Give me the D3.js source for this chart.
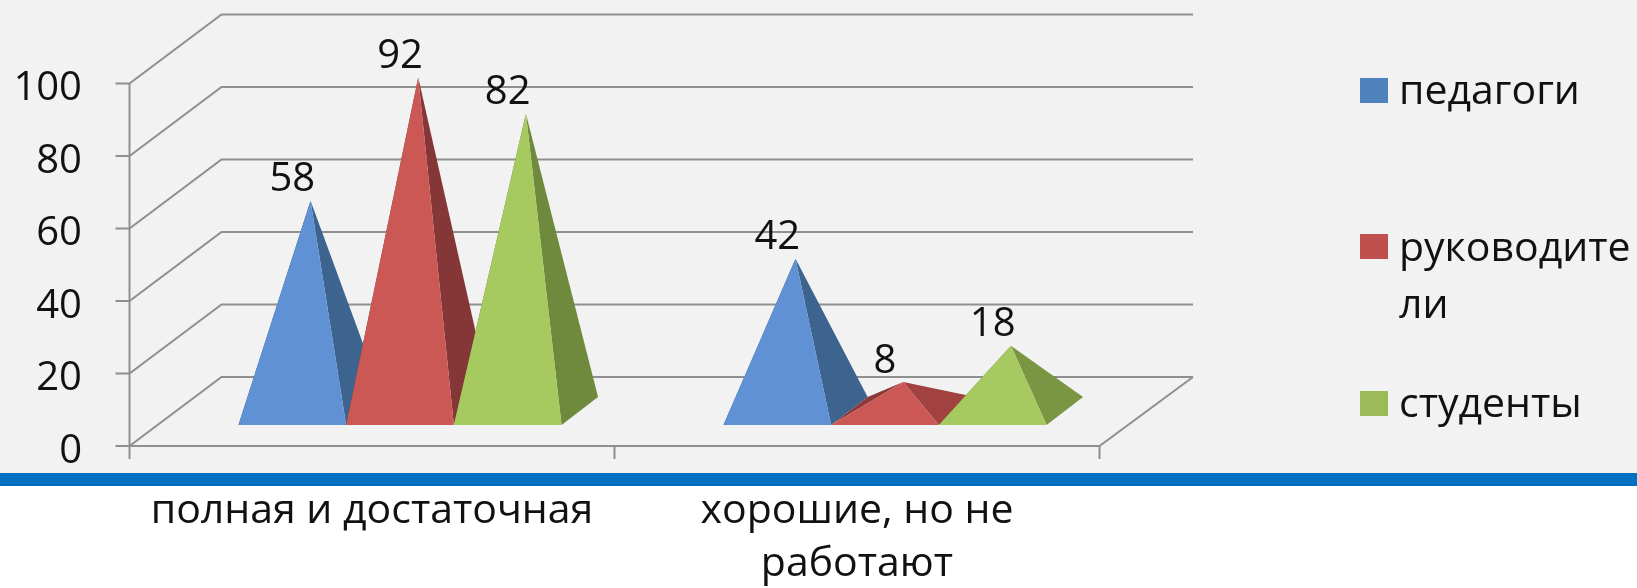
<!DOCTYPE html>
<html><head><meta charset="utf-8">
<script src="https://cdn.jsdelivr.net/npm/d3@7"></script>
<style>html,body{margin:0;padding:0;background:#fff}svg{display:block;filter:blur(0.5px)}text{font-family:"Open Sans",sans-serif;fill:#111}</style>
</head><body><div id="chart"></div>
<script>
const categories = ["полная и достаточная", "хорошие, но не работают"];
const categoryLines = [["полная и достаточная"], ["хорошие, но не", "работают"]];
const seriesNames = ["педагоги", "руководители", "студенты"];
const legendLines = [["педагоги"], ["руководите", "ли"], ["студенты"]];
const teachers = [58, 42];
const managers = [92, 8];
const students = [82, 18];
const yTicks = [0, 20, 40, 60, 80, 100];
const frontColors = ["#5f91d4", "#cc5855", "#a6ca60"];
const sideFlat = ["#4a73a5", "#a84543", "#839f48"];
const sideSteep = ["#3c648f", "#853636", "#6f8a3c"];
const legendColors = ["#4f81bd", "#c0504d", "#9bbb59"];

const W = 1637, H = 588;
const svg = d3.select("#chart").append("svg").attr("width", W).attr("height", H);
const FS = 40, TS = 41;

svg.append("rect").attr("x", -5).attr("y", -5).attr("width", W + 10).attr("height", 480).attr("fill", "#f2f2f2");

const axisX0 = 129.5, axisX1 = 1099.5, zeroY = 446, topY = 83.5;
const depthX = 92, depthY = 69;
const y = d3.scaleLinear().domain([0, 100]).range([zeroY, topY]);
const x = d3.scaleBand().domain(categories).range([axisX0, axisX1]);
const barW = 107.7;
const inner = d3.scaleBand().domain(seriesNames).range([-barW * 1.5, barW * 1.5]);
const plane = 28;                 // series plane inside the floor depth
const baseFrontY = 425, pdx = 36.5, pdy = 28;
const unit = y(0) - y(1);

const grid = "#8f8f8f";
const g = svg.append("g").attr("fill", "none").attr("stroke", grid).attr("stroke-width", 2);
yTicks.forEach(t => {
  const yy = y(t);
  g.append("path").attr("d", d3.line()([[axisX0 - 14, yy], [axisX0, yy], [axisX0 + depthX, yy - depthY], [axisX1 + depthX + 1.5, yy - depthY]]));
});
g.append("path").attr("d", d3.line()([[axisX0, topY], [axisX0, zeroY + 13]]));
g.append("path").attr("d", d3.line()([[axisX0, zeroY], [axisX1, zeroY], [axisX1 + depthX + 1.5, zeroY - depthY]]));
[0, 1].forEach(i => {
  const tx = x(categories[i]) + x.bandwidth();
  g.append("path").attr("d", d3.line()([[tx, zeroY], [tx, zeroY + 13]]));
});

svg.selectAll(".yl").data(yTicks).join("text").attr("class", "yl")
  .attr("x", 82).attr("y", d => y(d) + 1).attr("text-anchor", "end")
  .attr("dominant-baseline", "central").attr("font-size", FS).text(d => d);

const seriesValues = [teachers, managers, students];
const pyr = svg.append("g");
const labels = [];
seriesNames.forEach((s, si) => {
  const steep = d3.interpolateRgb(sideFlat[si], sideSteep[si]);
  categories.forEach((c, ci) => {
    const v = seriesValues[si][ci];
    const left = x(c) + x.bandwidth() / 2 + plane + inner(s);
    const right = left + barW;
    const cx = (left + right) / 2 + pdx / 2;
    const cy = baseFrontY - pdy / 2;
    const apex = [cx, cy - v * unit];
    const fl = [left, baseFrontY], fr = [right, baseFrontY];
    const bl = [left + pdx, baseFrontY - pdy], br = [right + pdx, baseFrontY - pdy];
    const line = d3.line().curve(d3.curveLinearClosed);
    const side = steep(Math.min(1, v / 40));
    pyr.append("path").attr("d", line([fl, bl, apex])).attr("fill", d3.color(side).darker(0.4));
    pyr.append("path").attr("d", line([fr, br, apex])).attr("fill", side);
    pyr.append("path").attr("d", line([fl, fr, apex])).attr("fill", frontColors[si]);
    labels.push({ v, x: (left + right) / 2, y: apex[1] - 25 });
  });
});
svg.selectAll(".vl").data(labels).join("text").attr("class", "vl")
  .attr("x", d => d.x).attr("y", d => d.y).attr("text-anchor", "middle")
  .attr("dominant-baseline", "central").attr("font-size", FS).text(d => d.v);

svg.append("rect").attr("x", -5).attr("y", 473).attr("width", W + 10).attr("height", 13).attr("fill", "#0070c0");

const catLineY = [[507], [507, 560]];
categories.forEach((c, i) => {
  categoryLines[i].forEach((l, j) => {
    svg.append("text").attr("x", x(c) + x.bandwidth() / 2).attr("y", catLineY[i][j])
      .attr("text-anchor", "middle").attr("dominant-baseline", "central").attr("font-size", TS).text(l);
  });
});

const legendY = [[88], [245, 302], [401]];
const swatchY = [78, 234, 391];
seriesNames.forEach((s, i) => {
  svg.append("rect").attr("x", 1360).attr("y", swatchY[i]).attr("width", 28).attr("height", 25).attr("fill", legendColors[i]);
  legendLines[i].forEach((l, j) => {
    svg.append("text").attr("x", 1399).attr("y", legendY[i][j]).attr("dominant-baseline", "central").attr("font-size", TS).text(l);
  });
});
</script></body></html>
